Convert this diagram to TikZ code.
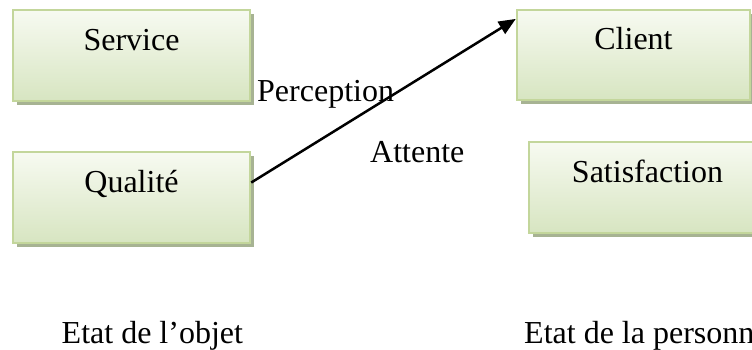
\documentclass[tikz,border=0pt]{standalone}
\usepackage{fontspec}
\setmainfont{Liberation Serif}
\usetikzlibrary{shadows,arrows.meta,calc}
\definecolor{boxedge}{HTML}{C3D69B}
\definecolor{boxtop}{HTML}{F7FAF1}
\definecolor{boxbottom}{HTML}{D7E5C1}
\definecolor{boxshadow}{HTML}{A7B393}
\tikzset{
  greenbox/.style={rectangle, draw=boxedge, line width=2.5pt,
    top color=boxtop, bottom color=boxbottom,
    drop shadow={shadow xshift=4pt, shadow yshift=-4pt, fill=boxshadow, opacity=1},
    inner sep=0pt, text height=22pt, text depth=33pt,
    font=\fontsize{32}{38}\selectfont},
  caption/.style={inner sep=0pt, anchor=base west, font=\fontsize{32}{38}\selectfont},
  link/.style={line width=2.5pt, -{Triangle[length=17pt,width=14pt]}}
}
\begin{document}
\begin{tikzpicture}[x=1pt,y=-1pt]
  \clip (0,0) rectangle (752,349);
  \fill[white] (0,0) rectangle (752,349);

  % boxes: object side (left) and person side (right)
  \node[greenbox, minimum width=237pt, minimum height=91pt] (service) at (131.5,55.5) {Service};
  \node[greenbox, minimum width=237pt, minimum height=91pt] (qualite) at (131.5,197.5) {Qualité};
  \node[greenbox, minimum width=233pt, minimum height=90pt] (client) at (633.5,55) {Client};
  \node[greenbox, minimum width=237pt, minimum height=91pt] (satisf) at (647.5,187.5) {Satisfaction};

  % arrow from quality to client
  \draw[link] ($(qualite.north east)!0.34!(qualite.south east)$) -- ($(client.north west)!0.11!(client.south west)$);

  % labels
  \node[caption] (perception) at (257,101) {Perception};
  \node[caption] (attente) at (370,162) {Attente};
  \node[caption] (objet) at (61.5,343.5) {Etat de l’objet};
  \node[caption] (personne) at (524,343.5) {Etat de la personne};
\end{tikzpicture}
\end{document}
